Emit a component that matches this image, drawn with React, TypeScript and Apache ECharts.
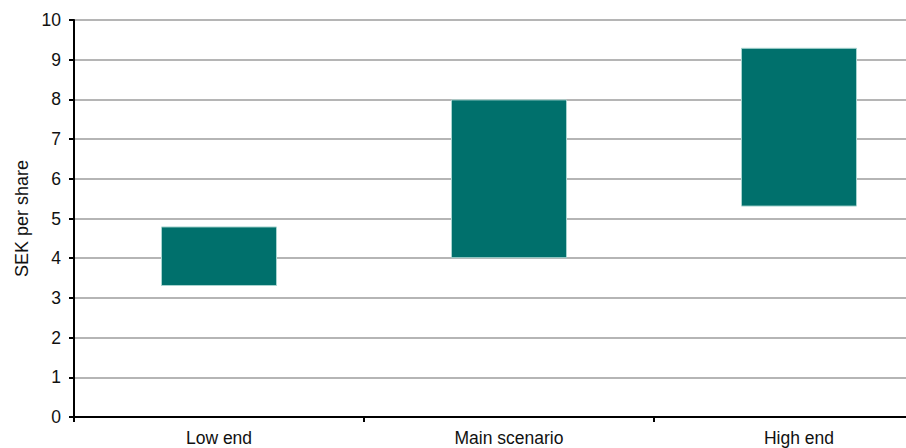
import React, { useEffect, useRef } from "react";
import * as echarts from "echarts";

const categories = ["Low end", "Main scenario", "High end"];
const lowValues = [3.3, 4.0, 5.3];
const highValues = [4.8, 8.0, 9.3];
const yAxisName = "SEK per share";

export default function App() {
  const ref = useRef<HTMLDivElement>(null);
  useEffect(() => {
    document.body.style.margin = "0";
    const chart = echarts.init(ref.current!, null, { renderer: "svg" });
    const ranges = highValues.map((h, i) => +(h - lowValues[i]).toFixed(2));
    chart.setOption({
      animation: false,
      textStyle: { fontFamily: "Liberation Sans, Arial, sans-serif" },
      grid: { left: 74, top: 20, height: 397, width: 870, outerBoundsMode: "none", containLabel: false },
      xAxis: {
        type: "category",
        data: categories,
        axisLine: { lineStyle: { color: "#000", width: 2 } },
        axisTick: { show: true, alignWithLabel: false, length: 5, lineStyle: { color: "#000", width: 2 } },
        axisLabel: { color: "#111", fontSize: 17.5, margin: 12 },
        splitLine: { show: false },
      },
      yAxis: {
        type: "value",
        min: 0,
        max: 10,
        interval: 1,
        name: yAxisName,
        nameLocation: "middle",
        nameGap: 37,
        nameTextStyle: { color: "#111", fontSize: 18 },
        axisLine: { show: true, lineStyle: { color: "#000", width: 2 } },
        axisTick: { show: true, length: 5, lineStyle: { color: "#000", width: 2 } },
        axisLabel: { color: "#111", fontSize: 17.5, margin: 13 },
        splitLine: { show: true, lineStyle: { color: "#b5b5b5", width: 2 } },
      },
      series: [
        {
          type: "bar",
          stack: "range",
          data: lowValues,
          barWidth: "40%",
          itemStyle: { color: "transparent" },
          silent: true,
        },
        {
          type: "bar",
          stack: "range",
          data: ranges,
          barWidth: "40%",
          itemStyle: { color: "#00706c", borderColor: "#a8d4d0", borderWidth: 1 },
        },
      ],
    });
    return () => chart.dispose();
  }, []);
  return <div ref={ref} style={{ width: 906, height: 448 }} />;
}
